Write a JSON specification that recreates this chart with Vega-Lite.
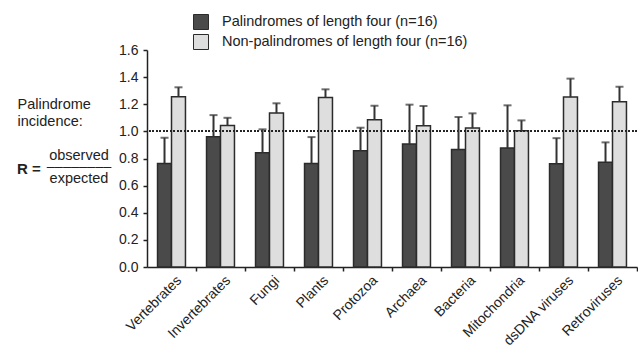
{
  "$schema": "https://vega.github.io/schema/vega-lite/v6.json",
  "width": 490,
  "height": 217,
  "autosize": "none",
  "padding": {"left": 147, "top": 50, "right": 1, "bottom": 80},
  "config": {
    "view": {"stroke": null},
    "font": "Liberation Sans",
    "axis": {"labelFont": "Liberation Sans", "titleFont": "Liberation Sans", "labelColor": "#222", "titleColor": "#222", "domainColor": "#222", "tickColor": "#222", "domainWidth": 1.5, "tickWidth": 1.5, "grid": false},
    "axisY": {"labelOverlap": false, "labelFontSize": 14, "tickSize": 4, "labelPadding": 5}
  },
  "title": {
    "text": "R =",
    "anchor": "start",
    "frame": "group",
    "orient": "top",
    "dx": -130,
    "dy": 175,
    "offset": 0,
    "baseline": "alphabetic",
    "font": "Liberation Sans",
    "fontSize": 15,
    "fontWeight": "bold",
    "color": "#222"
  },
  "resolve": {"axis": {"y": "independent"}},
  "data": {
    "values": [
      {"group": "Vertebrates", "series": "Palindromes of length four (n=16)", "value": 0.764, "err": 0.953},
      {"group": "Vertebrates", "series": "Non-palindromes of length four (n=16)", "value": 1.256, "err": 1.325},
      {"group": "Invertebrates", "series": "Palindromes of length four (n=16)", "value": 0.96, "err": 1.12},
      {"group": "Invertebrates", "series": "Non-palindromes of length four (n=16)", "value": 1.044, "err": 1.10},
      {"group": "Fungi", "series": "Palindromes of length four (n=16)", "value": 0.842, "err": 1.015},
      {"group": "Fungi", "series": "Non-palindromes of length four (n=16)", "value": 1.135, "err": 1.207},
      {"group": "Plants", "series": "Palindromes of length four (n=16)", "value": 0.764, "err": 0.958},
      {"group": "Plants", "series": "Non-palindromes of length four (n=16)", "value": 1.25, "err": 1.31},
      {"group": "Protozoa", "series": "Palindromes of length four (n=16)", "value": 0.857, "err": 1.027},
      {"group": "Protozoa", "series": "Non-palindromes of length four (n=16)", "value": 1.086, "err": 1.189},
      {"group": "Archaea", "series": "Palindromes of length four (n=16)", "value": 0.906, "err": 1.197},
      {"group": "Archaea", "series": "Non-palindromes of length four (n=16)", "value": 1.041, "err": 1.187},
      {"group": "Bacteria", "series": "Palindromes of length four (n=16)", "value": 0.867, "err": 1.106},
      {"group": "Bacteria", "series": "Non-palindromes of length four (n=16)", "value": 1.024, "err": 1.133},
      {"group": "Mitochondria", "series": "Palindromes of length four (n=16)", "value": 0.877, "err": 1.192},
      {"group": "Mitochondria", "series": "Non-palindromes of length four (n=16)", "value": 1.004, "err": 1.081},
      {"group": "dsDNA viruses", "series": "Palindromes of length four (n=16)", "value": 0.761, "err": 0.95},
      {"group": "dsDNA viruses", "series": "Non-palindromes of length four (n=16)", "value": 1.253, "err": 1.389},
      {"group": "Retroviruses", "series": "Palindromes of length four (n=16)", "value": 0.773, "err": 0.919},
      {"group": "Retroviruses", "series": "Non-palindromes of length four (n=16)", "value": 1.219, "err": 1.329}
    ]
  },
  "encoding": {
    "x": {
      "field": "group",
      "type": "nominal",
      "sort": null,
      "scale": {"paddingInner": 0.43, "paddingOuter": 0.215},
      "axis": {
        "title": ["observed", "––––––––", "expected"],
        "titleX": -68.5,
        "titleY": -108,
        "titleAlign": "center",
        "titleBaseline": "alphabetic",
        "titleAngle": 0,
        "titleLineHeight": 11.5,
        "titleFontSize": 14.5,
        "titleFontWeight": "normal",
        "labelAngle": -45,
        "labelFontSize": 14,
        "labelLimit": 0,
        "tickSize": 4,
        "tickOffset": 24.5,
        "labelOffset": -22,
        "labelPadding": 2
      }
    },
    "xOffset": {"field": "series", "type": "nominal", "sort": null, "scale": {"paddingInner": 0}}
  },
  "layer": [
    {
      "mark": {"type": "bar", "stroke": "#2b2b2b", "strokeWidth": 1.5},
      "encoding": {
        "y": {
          "field": "value",
          "type": "quantitative",
          "scale": {"domain": [0, 1.6], "nice": false},
          "axis": {
            "values": [0, 0.2, 0.4, 0.6, 0.8, 1.0, 1.2, 1.4, 1.6],
            "format": ".1f",
            "labelOverlap": false,
            "labelFontSize": 14,
            "tickSize": 4,
            "labelPadding": 5,
            "title": ["Palindrome", "incidence:"],
            "titleAngle": 0,
            "titleAlign": "left",
            "titleBaseline": "alphabetic",
            "titleX": -130,
            "titleY": 58,
            "titleLineHeight": 17,
            "titleFontSize": 14.5,
            "titleFontWeight": "normal"
          }
        },
        "color": {
          "field": "series",
          "type": "nominal",
          "sort": null,
          "scale": {"domain": ["Palindromes of length four (n=16)", "Non-palindromes of length four (n=16)"], "range": ["#4a4a4a", "#dedede"]},
          "legend": {
            "title": null,
            "orient": "none",
            "legendX": 46,
            "legendY": -36,
            "symbolType": "square",
            "symbolSize": 225,
            "symbolStrokeColor": "#2b2b2b",
            "symbolStrokeWidth": 1,
            "symbolOpacity": 1,
            "labelFont": "Liberation Sans",
            "labelFontSize": 14.5,
            "labelColor": "#222",
            "labelLimit": 0,
            "labelOffset": 13,
            "rowPadding": 0
          }
        }
      }
    },
    {
      "mark": {"type": "rule", "strokeDash": [1.5, 2], "strokeWidth": 1.3, "color": "#222"},
      "encoding": {"x": null, "xOffset": null, "y": {"datum": 1, "type": "quantitative", "scale": {"domain": [0, 1.6], "nice": false}, "axis": null}}
    },
    {
      "mark": {"type": "rule", "strokeWidth": 2, "color": "#333"},
      "encoding": {
        "y": {"field": "value", "type": "quantitative", "scale": {"domain": [0, 1.6], "nice": false}, "axis": null},
        "y2": {"field": "err"}
      }
    },
    {
      "mark": {"type": "tick", "size": 8, "thickness": 2, "color": "#333", "orient": "horizontal"},
      "encoding": {
        "y": {"field": "err", "type": "quantitative", "scale": {"domain": [0, 1.6], "nice": false}, "axis": null}
      }
    }
  ]
}
